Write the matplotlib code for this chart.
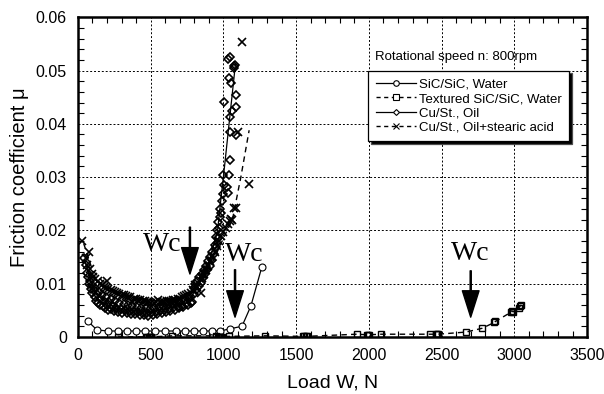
import numpy as np
import matplotlib
matplotlib.use('Agg')
import matplotlib.pyplot as plt
from matplotlib.ticker import MultipleLocator

plt.rcParams['font.family'] = ['Liberation Sans', 'DejaVu Sans']

# SiC/SiC, Water (open circles, solid line)
sic_load = [70, 131, 206, 275, 337, 399, 460, 529, 598, 674, 736, 798, 860, 921, 976,
            1045, 1128, 1189, 1264]
sic_mu = [0.0029, 0.0013, 0.0011, 0.0011, 0.0011, 0.0011, 0.0011, 0.0011, 0.0011, 0.0011,
          0.0011, 0.0011, 0.0011, 0.0011, 0.0011, 0.0015, 0.0020, 0.0058, 0.0131]

# Textured SiC/SiC, Water (open squares, dashed line)
tex_load = [276, 470, 478, 486, 494, 502, 650, 947, 960, 968, 976, 984, 992, 1037, 1286,
            1545, 1555, 1565, 1575, 1917, 1988, 1995, 2002, 2084, 2421, 2458, 2467, 2476,
            2667, 2777, 2862, 2870, 2975, 2983, 2991, 3032, 3040, 3048]
tex_mu = [0.0, 0.0, 0.0, 0.0, 0.0, 0.0, 0.0002, 0.0002, 0.0, 0.0, 0.0, 0.0, 0.0, 0.0001,
          0.0002, 0.0001, 0.0001, 0.0001, 0.0001, 0.0005, 0.0004, 0.0004, 0.0004, 0.0005,
          0.0005, 0.0005, 0.0005, 0.0005, 0.0009, 0.0016, 0.0027, 0.0029, 0.0046, 0.0049,
          0.0047, 0.0055, 0.0058, 0.0060]

# Cu/St., Oil (open diamonds, solid line)
oil_load = [45, 55, 60, 70, 75, 85, 90, 100, 100, 110, 115, 120, 125, 130, 140, 145, 150,
            155, 165, 170, 180, 185, 195, 200, 205, 215, 225, 230, 240, 250, 255, 265, 275,
            285, 295, 305, 315, 325, 335, 345, 355, 365, 375, 385, 395, 405, 415, 425, 435,
            445, 455, 465, 475, 485, 495, 505, 515, 525, 535, 545, 555, 565, 575, 585, 595,
            605, 615, 625, 635, 645, 655, 665, 675, 685, 695, 705, 715, 725, 735, 745, 755,
            765, 775, 785, 795, 800, 805, 815, 820, 830, 835, 845, 850, 860, 865, 875, 880,
            890, 895, 905, 910, 920, 925, 935, 940, 950, 950, 955, 960, 965, 970, 975, 980,
            985, 990, 995, 1000, 1005, 1023, 1030, 1037, 1044, 1044, 1085, 1044, 1057, 1085,
            1003, 1085, 1050, 1037, 1045, 1032, 1070, 1075, 1078]
oil_mu = [0.0148, 0.0135, 0.0120, 0.0112, 0.0100, 0.0105, 0.0090, 0.0098, 0.0082, 0.0088,
          0.0074, 0.0092, 0.0068, 0.0080, 0.0063, 0.0085, 0.0071, 0.0060, 0.0078, 0.0058,
          0.0068, 0.0054, 0.0074, 0.0060, 0.0050, 0.0066, 0.0052, 0.0072, 0.0058, 0.0048,
          0.0068, 0.0055, 0.0046, 0.0064, 0.0052, 0.0045, 0.0062, 0.0050, 0.0044, 0.0060,
          0.0049, 0.0043, 0.0058, 0.0048, 0.0043, 0.0056, 0.0047, 0.0042, 0.0055, 0.0046,
          0.0041, 0.0054, 0.0045, 0.0040, 0.0052, 0.0044, 0.0041, 0.0054, 0.0046, 0.0043,
          0.0056, 0.0048, 0.0045, 0.0058, 0.0050, 0.0047, 0.0060, 0.0052, 0.0049, 0.0062,
          0.0054, 0.0051, 0.0064, 0.0056, 0.0054, 0.0066, 0.0058, 0.0057, 0.0069, 0.0061,
          0.0060, 0.0072, 0.0064, 0.0066, 0.0080, 0.0092, 0.0100, 0.0088, 0.0105, 0.0096,
          0.0112, 0.0102, 0.0118, 0.0110, 0.0126, 0.0118, 0.0134, 0.0125, 0.0142, 0.0134,
          0.0150, 0.0145, 0.0160, 0.0155, 0.0172, 0.0168, 0.0188, 0.0200, 0.0185, 0.0215,
          0.0205, 0.0225, 0.0240, 0.0232, 0.0255, 0.0268, 0.0304, 0.0285, 0.0282, 0.0270,
          0.0304, 0.0332, 0.0385, 0.0379, 0.0413, 0.0424, 0.0432, 0.0441, 0.0454, 0.0477,
          0.0487, 0.0525, 0.0521, 0.0505, 0.0508, 0.0510]
# trend line drawn through the oil cloud
oil_line_load = [45, 100, 150, 200, 300, 400, 500, 600, 700, 780, 850, 900, 960, 982, 1000,
                 1039, 1078, 1082]
oil_line_mu = [0.0145, 0.0095, 0.0075, 0.0063, 0.0053, 0.0049, 0.0048, 0.0053, 0.0062,
               0.0075, 0.0110, 0.0140, 0.0200, 0.0257, 0.0300, 0.0400, 0.0500, 0.0512]

# Cu/St., Oil+stearic acid (x markers, dashed line)
acid_load = [30, 76, 55, 65, 80, 95, 105, 120, 135, 150, 165, 180, 195, 198, 210, 225, 240,
             255, 270, 285, 300, 315, 330, 345, 360, 371, 385, 400, 415, 430, 445, 460, 475,
             490, 505, 520, 535, 553, 565, 580, 595, 610, 625, 640, 655, 670, 685, 700, 715,
             730, 745, 760, 775, 790, 805, 820, 843, 850, 865, 880, 895, 910, 925, 940, 955,
             970, 985, 1000, 1015, 1030, 1045, 1050, 1062, 1073, 1085, 1097, 1131, 1177]
acid_mu = [0.0180, 0.0160, 0.0148, 0.0135, 0.0128, 0.0118, 0.0112, 0.0108, 0.0104, 0.0100,
           0.0098, 0.0094, 0.0092, 0.0104, 0.0090, 0.0088, 0.0086, 0.0084, 0.0082, 0.0081,
           0.0079, 0.0078, 0.0076, 0.0075, 0.0074, 0.0066, 0.0072, 0.0071, 0.0070, 0.0069,
           0.0068, 0.0067, 0.0066, 0.0065, 0.0064, 0.0064, 0.0065, 0.0070, 0.0066, 0.0066,
           0.0066, 0.0067, 0.0068, 0.0068, 0.0069, 0.0070, 0.0071, 0.0072, 0.0074, 0.0076,
           0.0078, 0.0080, 0.0082, 0.0088, 0.0098, 0.0094, 0.0082, 0.0110, 0.0118, 0.0126,
           0.0134, 0.0142, 0.0150, 0.0160, 0.0170, 0.0180, 0.0190, 0.0196, 0.0204, 0.0212,
           0.0218, 0.0222, 0.0220, 0.0242, 0.0242, 0.0385, 0.0553, 0.0287]
acid_line_load = [40, 100, 200, 300, 400, 500, 600, 700, 800, 900, 1000, 1062, 1120, 1177]
acid_line_mu = [0.0175, 0.0125, 0.0095, 0.0080, 0.0072, 0.0068, 0.0068, 0.0072, 0.0085,
                0.0125, 0.0185, 0.0220, 0.0300, 0.0388]

# Wc annotations: (text x, text y, arrow x, arrow top, arrow tip)
wc_marks = [(578, 0.0173, 770, 0.0206, 0.0118),
            (1140, 0.0154, 1080, 0.0126, 0.0037),
            (2700, 0.0156, 2700, 0.0124, 0.0037)]

fig = plt.figure(figsize=(6.04, 3.94), dpi=100)
ax = fig.add_axes([0.129, 0.145, 0.843, 0.811])

ax.plot(sic_load, sic_mu, '-', color='black', lw=0.9, marker='o', ms=5,
        mfc='white', mec='black', mew=0.8)
ax.plot(tex_load, tex_mu, '--', color='black', lw=1.0, dashes=(4, 3), marker='s', ms=5,
        mfc='none', mec='black', mew=1.0)

# Cu/St. clouds, the lines are drawn separately as trends
ax.plot(oil_load, oil_mu, 'D', ms=4.5, mfc='none', mec='black', mew=1.2, zorder=3)
ax.plot(acid_load, acid_mu, 'x', ms=6, mec='black', mew=1.2, zorder=3)
ax.plot(oil_line_load, oil_line_mu, '-', color='black', lw=0.9, zorder=4)
ax.plot(acid_line_load, acid_line_mu, '--', color='black', lw=1.0, dashes=(4, 3), zorder=4)

# legend proxies
ax.plot([], [], '-', color='black', lw=0.9, marker='o', ms=4, mfc='white', mec='black',
        mew=0.8, label='SiC/SiC, Water')
ax.plot([], [], '--', color='black', lw=1.0, dashes=(3, 2.5), marker='s', ms=4,
        mfc='white', mec='black', mew=0.8, label='Textured SiC/SiC, Water')
ax.plot([], [], '-', color='black', lw=0.9, marker='D', ms=3, mfc='white', mec='black',
        mew=0.8, label='Cu/St., Oil')
ax.plot([], [], '--', color='black', lw=1.0, dashes=(3, 2.5), marker='x', ms=4,
        mec='black', mew=0.8, label='Cu/St., Oil+stearic acid')

for tx, ty, axx, ytop, ytip in wc_marks:
    ax.text(tx, ty, 'Wc', family='Liberation Serif', fontsize=20, ha='center', va='center')
    ax.annotate('', xy=(axx, ytip), xytext=(axx, ytop),
                arrowprops=dict(facecolor='black', edgecolor='black', width=0.8,
                                headwidth=12, headlength=19, shrink=0))

ax.set_xlim(0, 3500)
ax.set_ylim(0, 0.06)
ax.xaxis.set_major_locator(MultipleLocator(500))
ax.xaxis.set_minor_locator(MultipleLocator(100))
ax.yaxis.set_minor_locator(MultipleLocator(0.002))
ax.set_yticks(np.arange(0, 0.061, 0.01))
ax.set_yticklabels(['0', '0.01', '0.02', '0.03', '0.04', '0.05', '0.06'])
ax.tick_params(which='both', direction='in', top=True, right=True, labelsize=11.5,
               color='black')
ax.tick_params(which='major', length=0, pad=8)
ax.tick_params(which='minor', length=4, width=0.8)
ax.grid(True, which='major', linestyle=(0, (2, 2)), color='black', lw=0.7)
for s in ax.spines.values():
    s.set_linewidth(1.8)

ax.set_xlabel('Load W, N', fontsize=14, labelpad=8)
ax.set_ylabel('Friction coefficient μ', fontsize=14.5, labelpad=5)

ax.text(0.583, 0.876, 'Rotational speed n: 800rpm', transform=ax.transAxes,
        fontsize=9.5, va='center', ha='left')
leg = ax.legend(loc='upper right', bbox_to_anchor=(0.965, 0.833), borderaxespad=0,
                fontsize=9.5, fancybox=False, framealpha=1, edgecolor='black',
                handlelength=3.0, handletextpad=0.2, labelspacing=0.15,
                borderpad=0.6, shadow={'facecolor': 'black', 'alpha': 1})
leg.get_frame().set_linewidth(0.9)

fig.savefig('out.png', dpi=100)
